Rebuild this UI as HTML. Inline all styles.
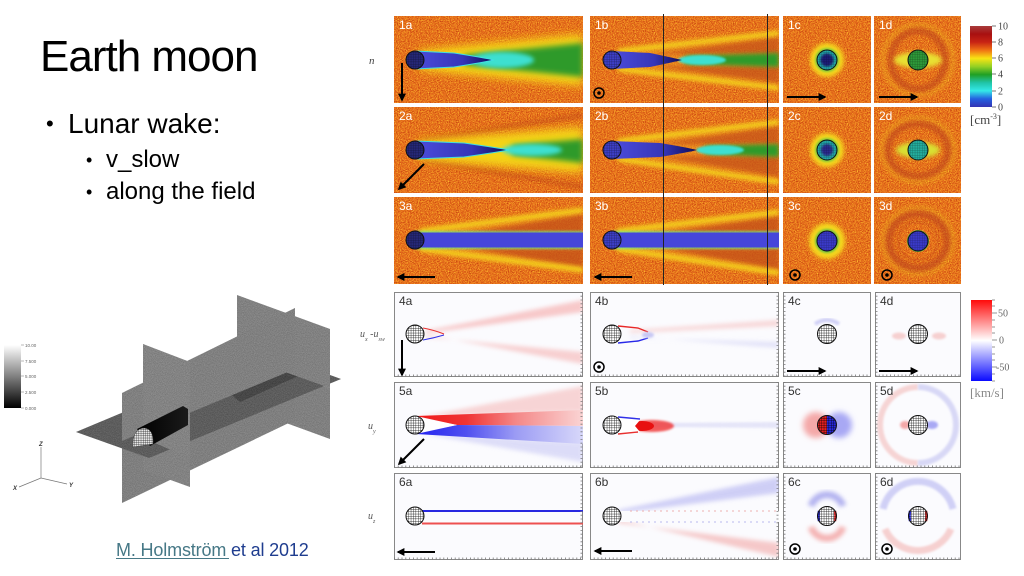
<!DOCTYPE html>
<html><head><meta charset="utf-8">
<style>
html,body{margin:0;padding:0;background:#fff;}
svg{display:block;}
</style></head>
<body>
<svg xmlns="http://www.w3.org/2000/svg" width="1024" height="576" viewBox="0 0 1024 576" font-family="'Liberation Sans', sans-serif">
<defs>
  <marker id="ah" viewBox="0 0 10 10" refX="8" refY="5" markerWidth="4" markerHeight="4" orient="auto"><path d="M0,0 L10,5 L0,10 z" fill="#000"/></marker>
  <pattern id="gl" width="2.4" height="2.4" patternUnits="userSpaceOnUse"><path d="M0 0H2.4M0 0V2.4" stroke="#000" stroke-width="0.7" fill="none"/></pattern>
  <pattern id="wg" width="2.2" height="2.2" patternUnits="userSpaceOnUse"><rect width="2.2" height="2.2" fill="#e8e8e8"/><path d="M0 0H2.2M0 0V2.2" stroke="#111" stroke-width="0.6" fill="none"/></pattern>
  <filter id="bl1" x="-50%" y="-50%" width="200%" height="200%"><feGaussianBlur stdDeviation="1"/></filter>
  <filter id="bl2" x="-50%" y="-50%" width="200%" height="200%"><feGaussianBlur stdDeviation="2"/></filter>
  <filter id="bl3" x="-50%" y="-50%" width="200%" height="200%"><feGaussianBlur stdDeviation="3"/></filter>
  <filter id="bl4" x="-50%" y="-50%" width="200%" height="200%"><feGaussianBlur stdDeviation="4.5"/></filter>
  <filter id="nz" x="0" y="0" width="100%" height="100%" color-interpolation-filters="sRGB">
    <feTurbulence type="fractalNoise" baseFrequency="0.9" numOctaves="2" seed="4" result="t"/>
    <feColorMatrix in="t" type="matrix" values="0 0 0 0 0.72  0 0 0 0 0.2  0 0 0 0 0.05  -3 0 0 0 1.45" result="d"/>
    <feColorMatrix in="t" type="matrix" values="0 0 0 0 1  0 0 0 0 0.8  0 0 0 0 0.2  3 0 0 0 -1.55" result="y"/>
    <feMerge><feMergeNode in="d"/><feMergeNode in="y"/></feMerge>
  </filter>
  <filter id="gn" x="0" y="0" width="100%" height="100%" color-interpolation-filters="sRGB">
    <feTurbulence type="fractalNoise" baseFrequency="1.1" numOctaves="1" seed="7" result="t"/>
    <feColorMatrix in="t" type="matrix" values="1 0 0 0 -0.05  1 0 0 0 -0.05  1 0 0 0 -0.05  0 0 0 0 0.22" result="n"/>
    <feComposite in="n" in2="SourceGraphic" operator="in" result="nn"/>
    <feMerge><feMergeNode in="SourceGraphic"/><feMergeNode in="nn"/></feMerge>
  </filter>
  <linearGradient id="bandA" x1="0" y1="0" x2="1" y2="0"><stop offset="0" stop-color="#4C4CDC"/><stop offset="0.6" stop-color="#3636B8"/><stop offset="1" stop-color="#0C0C58"/></linearGradient>
  <linearGradient id="jet" x1="0" y1="0" x2="0" y2="1">
    <stop offset="0" stop-color="#A83C3C"/><stop offset="0.1" stop-color="#A81010"/><stop offset="0.2" stop-color="#C82414"/>
    <stop offset="0.3" stop-color="#F07414"/><stop offset="0.4" stop-color="#F8E414"/><stop offset="0.5" stop-color="#94D024"/>
    <stop offset="0.6" stop-color="#20A024"/><stop offset="0.7" stop-color="#20C4A8"/><stop offset="0.8" stop-color="#34E8E8"/>
    <stop offset="0.9" stop-color="#2460E0"/><stop offset="1" stop-color="#3434B4"/>
  </linearGradient>
  <linearGradient id="rwb" x1="0" y1="0" x2="0" y2="1"><stop offset="0" stop-color="#FF0A0A"/><stop offset="0.5" stop-color="#FFFFFF"/><stop offset="1" stop-color="#0A0AFF"/></linearGradient>
  <linearGradient id="gsc" x1="0" y1="0" x2="0" y2="1"><stop offset="0" stop-color="#FFFFFF"/><stop offset="1" stop-color="#000000"/></linearGradient>
  <linearGradient id="redfade" x1="0" y1="0" x2="1" y2="0"><stop offset="0" stop-color="#F01818"/><stop offset="0.3" stop-color="#F03434"/><stop offset="0.6" stop-color="#F48888"/><stop offset="1" stop-color="#FAD4D4"/></linearGradient>
  <linearGradient id="bluefade" x1="0" y1="0" x2="1" y2="0"><stop offset="0" stop-color="#2020F0"/><stop offset="0.3" stop-color="#5050F0"/><stop offset="0.6" stop-color="#9C9CF4"/><stop offset="1" stop-color="#D8D8FA"/></linearGradient>
  <linearGradient id="cyl" x1="0" y1="0" x2="1" y2="0"><stop offset="0" stop-color="#000"/><stop offset="1" stop-color="#1a1a1a"/></linearGradient>
</defs>

<rect width="1024" height="576" fill="#fff"/>

<!-- LEFT TEXT -->
<text x="40" y="71" font-size="44" letter-spacing="-1" fill="#000">Earth moon</text>
<text x="46" y="131" font-size="22" fill="#000">•</text>
<text x="68" y="133" font-size="28" fill="#000">Lunar wake:</text>
<text x="86" y="166" font-size="18" fill="#000">•</text>
<text x="106" y="167" font-size="24" fill="#000">v_slow</text>
<text x="86" y="198" font-size="18" fill="#000">•</text>
<text x="106" y="199" font-size="24" fill="#000">along the field</text>

<!-- citation -->
<text x="116" y="556" font-size="18" letter-spacing="-0.15"><tspan fill="#467886">M. Holmström</tspan><tspan fill="#1F3D8F"> et al 2012</tspan></text>
<line x1="116" y1="558.5" x2="229" y2="558.5" stroke="#467886" stroke-width="1"/>

<!-- grayscale colorbar -->
<rect x="4" y="345" width="17" height="63" fill="url(#gsc)"/>
<g font-size="4.5" fill="#666">
  <line x1="21" y1="345" x2="24" y2="345" stroke="#888" stroke-width="0.6"/><text x="25" y="347">10.00</text>
  <line x1="21" y1="361" x2="24" y2="361" stroke="#888" stroke-width="0.6"/><text x="25" y="363">7.500</text>
  <line x1="21" y1="376" x2="24" y2="376" stroke="#888" stroke-width="0.6"/><text x="25" y="378">5.000</text>
  <line x1="21" y1="392" x2="24" y2="392" stroke="#888" stroke-width="0.6"/><text x="25" y="394">2.500</text>
  <line x1="21" y1="408" x2="24" y2="408" stroke="#888" stroke-width="0.6"/><text x="25" y="410">0.000</text>
</g>
<!-- axes triad -->
<g stroke="#777" stroke-width="0.7" fill="none">
  <line x1="41" y1="478" x2="41" y2="447"/>
  <line x1="41" y1="478" x2="19" y2="487"/>
  <line x1="41" y1="478" x2="67" y2="484"/>
</g>
<g font-size="6" font-style="italic" fill="#333" font-weight="bold">
  <text x="39" y="446">Z</text>
  <text x="13" y="490">X</text>
  <text x="69" y="487">Y</text>
</g>

<!-- 3D figure -->
<g filter="url(#gn)">
  <polygon points="237,355 330,388 330,439 237,405" fill="#858585"/>
  <polygon points="122,441 295,369 295,420 122,503" fill="#838383"/>
  <polygon points="143,438 190,458 190,487 143,470" fill="#878787"/>
  <polygon points="76,432 267,352 341,379 149,458" fill="#585858"/>
  <polygon points="228,392 300,362 312,370 240,402" fill="#3c3c3c"/>
  <polygon points="237,295 330,329 330,388 237,355" fill="#868686"/>
  <polygon points="122,393 295,308 295,369 122,441" fill="#848484"/>
  <polygon points="143,344 190,362 190,458 143,438" fill="#888888"/>
</g>
<polygon points="137,429 183,406 188,409 188,425 150,446" fill="url(#cyl)"/>
<path d="M133,447 Q132,429 144,428 Q154,429 153,444 Z" fill="url(#wg)" stroke="#333" stroke-width="0.4"/>

<!-- RIGHT FIGURE -->
<text x="369" y="64" font-family="'Liberation Serif', serif" font-style="italic" font-size="11" fill="#444">n</text>
<text x="360" y="337" font-family="'Liberation Serif', serif" font-style="italic" font-size="10" fill="#555">u<tspan font-size="6" dy="4">x</tspan><tspan dy="-4"> -u</tspan><tspan font-size="6" dy="4">sw</tspan></text>
<text x="368" y="429" font-family="'Liberation Serif', serif" font-style="italic" font-size="10" fill="#555">u<tspan font-size="6" dy="4">y</tspan></text>
<text x="368" y="519" font-family="'Liberation Serif', serif" font-style="italic" font-size="10" fill="#555">u<tspan font-size="6" dy="4">z</tspan></text>

<!-- ===== Density row 1 ===== -->
<svg x="394" y="16" width="189" height="87">
  <rect width="189" height="87" fill="#E8701C"/><rect width="189" height="87" filter="url(#nz)"/>
  <polygon points="25,34 189,18 189,70 25,54" fill="#F4D418" filter="url(#bl4)"/>
  <polygon points="70,39 189,27 189,61 70,49" fill="#2E9A2A" filter="url(#bl3)"/>
  <ellipse cx="108" cy="44" rx="32" ry="8" fill="#3EE0D0" filter="url(#bl2)"/>
  <path d="M21,35 L60,37 Q92,42 100,44 Q92,46 60,51 L21,53 Z" fill="url(#bandA)"/>
  <path d="M21,35 L60,37 Q92,42 100,44 Q92,46 60,51 L21,53" fill="none" stroke="#40E0E0" stroke-width="1"/>
  <circle cx="21" cy="44" r="9" fill="#262878"/><circle cx="21" cy="44" r="9" fill="url(#gl)" opacity=".45"/><circle cx="21" cy="44" r="9" fill="none" stroke="#111"/>
  <line x1="8" y1="47" x2="8" y2="84" stroke="#000" stroke-width="2" marker-end="url(#ah)"/>
  <text x="5" y="13" font-size="12" fill="#fff">1a</text>
</svg>
<svg x="590" y="16" width="189" height="87">
  <rect width="189" height="87" fill="#E8701C"/><rect width="189" height="87" filter="url(#nz)"/>
  <polygon points="25,36 189,20 189,68 25,52" fill="#EFA020" opacity=".5" filter="url(#bl3)"/>
  <polygon points="60,38 189,21 189,38" fill="#B83A14" opacity=".55" filter="url(#bl2)"/>
  <polygon points="60,50 189,50 189,67" fill="#B83A14" opacity=".55" filter="url(#bl2)"/>
  <line x1="28" y1="35" x2="189" y2="17" stroke="#F4D41C" stroke-width="5" filter="url(#bl2)"/>
  <line x1="28" y1="53" x2="189" y2="72" stroke="#F4D41C" stroke-width="5" filter="url(#bl2)"/>
  <polygon points="95,40 189,37 189,51 95,48" fill="#2E9A2A" filter="url(#bl2)"/>
  <ellipse cx="112" cy="44" rx="24" ry="5" fill="#3EE0D0" filter="url(#bl1)"/>
  <path d="M22,35 L60,37 Q84,42 92,44 Q84,46 60,51 L22,53 Z" fill="url(#bandA)"/>
  <circle cx="22" cy="44" r="9" fill="#3E40C8"/><circle cx="22" cy="44" r="9" fill="url(#gl)" opacity=".5"/><circle cx="22" cy="44" r="9" fill="none" stroke="#111"/>
  <circle cx="9" cy="77" r="5" fill="none" stroke="#000" stroke-width="1.5"/><circle cx="9" cy="77" r="1.8" fill="#000"/>
  <text x="5" y="13" font-size="12" fill="#fff">1b</text>
</svg>
<svg x="783" y="16" width="88" height="87">
  <rect width="88" height="87" fill="#E8701C"/><rect width="88" height="87" filter="url(#nz)"/>
  <circle cx="44" cy="44" r="17" fill="#F4D81C" filter="url(#bl2)"/>
  <circle cx="44" cy="44" r="12" fill="#7CC83A" filter="url(#bl1)"/>
  <circle cx="44" cy="44" r="10" fill="#22A6A6"/>
  <circle cx="44" cy="44" r="6.5" fill="#1C1C78" filter="url(#bl1)"/>
  <circle cx="44" cy="44" r="10" fill="url(#gl)" opacity=".35"/><circle cx="44" cy="44" r="10" fill="none" stroke="#111"/>
  <line x1="4" y1="81" x2="42" y2="81" stroke="#000" stroke-width="2" marker-end="url(#ah)"/>
  <text x="5" y="13" font-size="12" fill="#fff">1c</text>
</svg>
<svg x="874" y="16" width="87" height="87">
  <rect width="87" height="87" fill="#E8701C"/><rect width="87" height="87" filter="url(#nz)"/>
  <circle cx="44" cy="44" r="35" fill="none" stroke="#F0C020" stroke-width="4" opacity=".45" filter="url(#bl2)"/>
  <ellipse cx="44" cy="44" rx="27" ry="29" fill="none" stroke="#B8401A" stroke-width="6" opacity=".6" filter="url(#bl2)"/>
  <ellipse cx="44" cy="44" rx="24" ry="8" fill="#E8E030" filter="url(#bl2)"/>
  <circle cx="44" cy="44" r="10" fill="#2E9A3A"/>
  <circle cx="44" cy="44" r="10" fill="url(#gl)" opacity=".4"/><circle cx="44" cy="44" r="10" fill="none" stroke="#111"/>
  <line x1="5" y1="81" x2="43" y2="81" stroke="#000" stroke-width="2" marker-end="url(#ah)"/>
  <text x="5" y="13" font-size="12" fill="#fff">1d</text>
</svg>

<!-- ===== Density row 2 ===== -->
<svg x="394" y="107" width="189" height="86">
  <rect width="189" height="86" fill="#E8701C"/><rect width="189" height="86" filter="url(#nz)"/>
  <line x1="30" y1="33" x2="189" y2="8" stroke="#B84018" stroke-width="4" opacity=".5" filter="url(#bl2)"/>
  <line x1="30" y1="53" x2="189" y2="80" stroke="#B84018" stroke-width="4" opacity=".5" filter="url(#bl2)"/>
  <polygon points="25,33 189,20 189,66 25,53" fill="#F4D418" filter="url(#bl4)"/>
  <polygon points="118,38 189,32 189,56 118,48" fill="#2E9A2A" filter="url(#bl3)"/>
  <ellipse cx="138" cy="43" rx="30" ry="6" fill="#3EE0D0" filter="url(#bl2)"/>
  <path d="M21,34 L70,36 Q105,41 115,43 Q105,45 70,50 L21,52 Z" fill="url(#bandA)"/>
  <path d="M21,34 L70,36 Q105,41 115,43 Q105,45 70,50 L21,52" fill="none" stroke="#40E0E0" stroke-width="1"/>
  <circle cx="21" cy="43" r="9" fill="#262878"/><circle cx="21" cy="43" r="9" fill="url(#gl)" opacity=".45"/><circle cx="21" cy="43" r="9" fill="none" stroke="#111"/>
  <line x1="30" y1="57" x2="5" y2="82" stroke="#000" stroke-width="2" marker-end="url(#ah)"/>
  <text x="5" y="13" font-size="12" fill="#fff">2a</text>
</svg>
<svg x="590" y="107" width="189" height="86">
  <rect width="189" height="86" fill="#E8701C"/><rect width="189" height="86" filter="url(#nz)"/>
  <polygon points="25,35 189,18 189,70 25,51" fill="#EFA020" opacity=".5" filter="url(#bl3)"/>
  <polygon points="65,37 189,19 189,37" fill="#B83A14" opacity=".55" filter="url(#bl2)"/>
  <polygon points="65,49 189,49 189,70" fill="#B83A14" opacity=".55" filter="url(#bl2)"/>
  <line x1="28" y1="34" x2="189" y2="15" stroke="#F4D41C" stroke-width="5" filter="url(#bl2)"/>
  <line x1="28" y1="52" x2="189" y2="75" stroke="#F4D41C" stroke-width="5" filter="url(#bl2)"/>
  <polygon points="115,39 189,37 189,50 115,47" fill="#2E9A2A" filter="url(#bl2)"/>
  <ellipse cx="130" cy="43" rx="24" ry="5" fill="#3EE0D0" filter="url(#bl1)"/>
  <path d="M22,34 L70,36 Q100,41 107,43 Q100,45 70,50 L22,52 Z" fill="url(#bandA)"/>
  <circle cx="22" cy="43" r="9" fill="#3E40C8"/><circle cx="22" cy="43" r="9" fill="url(#gl)" opacity=".5"/><circle cx="22" cy="43" r="9" fill="none" stroke="#111"/>
  <text x="5" y="13" font-size="12" fill="#fff">2b</text>
</svg>
<svg x="783" y="107" width="88" height="86">
  <rect width="88" height="86" fill="#E8701C"/><rect width="88" height="86" filter="url(#nz)"/>
  <circle cx="44" cy="43" r="17" fill="#F4D81C" filter="url(#bl2)"/>
  <circle cx="44" cy="43" r="12" fill="#7CC83A" filter="url(#bl1)"/>
  <circle cx="44" cy="43" r="10" fill="#22A6A6"/>
  <circle cx="44" cy="43" r="6" fill="#2A2A90" filter="url(#bl1)"/>
  <circle cx="44" cy="43" r="10" fill="url(#gl)" opacity=".35"/><circle cx="44" cy="43" r="10" fill="none" stroke="#111"/>
  <text x="5" y="13" font-size="12" fill="#fff">2c</text>
</svg>
<svg x="874" y="107" width="87" height="86">
  <rect width="87" height="86" fill="#E8701C"/><rect width="87" height="86" filter="url(#nz)"/>
  <ellipse cx="44" cy="43" rx="36" ry="32" fill="none" stroke="#F0C020" stroke-width="4" opacity=".45" filter="url(#bl2)"/>
  <ellipse cx="44" cy="43" rx="30" ry="26" fill="none" stroke="#B8401A" stroke-width="6" opacity=".6" filter="url(#bl2)"/>
  <ellipse cx="44" cy="43" rx="22" ry="8" fill="#D8E030" filter="url(#bl2)"/>
  <circle cx="44" cy="43" r="10" fill="#24AE9E"/>
  <circle cx="44" cy="43" r="10" fill="url(#gl)" opacity=".4"/><circle cx="44" cy="43" r="10" fill="none" stroke="#111"/>
  <text x="5" y="13" font-size="12" fill="#fff">2d</text>
</svg>

<!-- ===== Density row 3 ===== -->
<svg x="394" y="197" width="189" height="87">
  <rect width="189" height="87" fill="#E8701C"/><rect width="189" height="87" filter="url(#nz)"/>
  <polygon points="25,34 189,14 189,74 25,52" fill="#EFA020" opacity=".5" filter="url(#bl3)"/>
  <polygon points="72,36 189,17 189,36" fill="#B83A14" opacity=".6" filter="url(#bl2)"/>
  <polygon points="72,51 189,51 189,71" fill="#B83A14" opacity=".6" filter="url(#bl2)"/>
  <line x1="26" y1="34" x2="189" y2="13" stroke="#F4D41C" stroke-width="5" filter="url(#bl2)"/>
  <line x1="26" y1="52" x2="189" y2="73" stroke="#F4D41C" stroke-width="5" filter="url(#bl2)"/>
  <rect x="21" y="34" width="168" height="18" fill="#44FFAA" opacity=".6" filter="url(#bl1)"/>
  <rect x="21" y="35.5" width="168" height="15" fill="#4646DA"/>
  <circle cx="21" cy="43" r="9" fill="#262878"/><circle cx="21" cy="43" r="9" fill="url(#gl)" opacity=".45"/><circle cx="21" cy="43" r="9" fill="none" stroke="#111"/>
  <line x1="41" y1="80" x2="4" y2="80" stroke="#000" stroke-width="2" marker-end="url(#ah)"/>
  <text x="5" y="13" font-size="12" fill="#fff">3a</text>
</svg>
<svg x="590" y="197" width="189" height="87">
  <rect width="189" height="87" fill="#E8701C"/><rect width="189" height="87" filter="url(#nz)"/>
  <polygon points="25,34 189,16 189,76 25,52" fill="#EFA020" opacity=".5" filter="url(#bl3)"/>
  <polygon points="70,36 189,19 189,36" fill="#B83A14" opacity=".6" filter="url(#bl2)"/>
  <polygon points="70,51 189,51 189,73" fill="#B83A14" opacity=".6" filter="url(#bl2)"/>
  <line x1="27" y1="34" x2="189" y2="15" stroke="#F4D41C" stroke-width="5" filter="url(#bl2)"/>
  <line x1="27" y1="52" x2="189" y2="76" stroke="#F4D41C" stroke-width="5" filter="url(#bl2)"/>
  <rect x="22" y="34" width="167" height="18" fill="#44FFAA" opacity=".6" filter="url(#bl1)"/>
  <rect x="22" y="35.5" width="167" height="15" fill="#4646DA"/>
  <circle cx="22" cy="43" r="9" fill="#3E40C8"/><circle cx="22" cy="43" r="9" fill="url(#gl)" opacity=".5"/><circle cx="22" cy="43" r="9" fill="none" stroke="#111"/>
  <line x1="42" y1="80" x2="5" y2="80" stroke="#000" stroke-width="2" marker-end="url(#ah)"/>
  <text x="5" y="13" font-size="12" fill="#fff">3b</text>
</svg>
<svg x="783" y="197" width="88" height="87">
  <rect width="88" height="87" fill="#E8701C"/><rect width="88" height="87" filter="url(#nz)"/>
  <circle cx="44" cy="44" r="18" fill="#F4D81C" filter="url(#bl2)"/>
  <circle cx="44" cy="44" r="12" fill="#6CC040" filter="url(#bl1)"/>
  <circle cx="44" cy="44" r="10" fill="#3A3AC8"/>
  <circle cx="44" cy="44" r="10" fill="url(#gl)" opacity=".35"/><circle cx="44" cy="44" r="10" fill="none" stroke="#111"/>
  <circle cx="12" cy="78" r="5" fill="none" stroke="#000" stroke-width="1.5"/><circle cx="12" cy="78" r="1.8" fill="#000"/>
  <text x="5" y="13" font-size="12" fill="#fff">3c</text>
</svg>
<svg x="874" y="197" width="87" height="87">
  <rect width="87" height="87" fill="#E8701C"/><rect width="87" height="87" filter="url(#nz)"/>
  <ellipse cx="44" cy="44" rx="35" ry="33" fill="none" stroke="#F0C020" stroke-width="4" opacity=".45" filter="url(#bl2)"/>
  <ellipse cx="44" cy="44" rx="29" ry="27" fill="none" stroke="#B8401A" stroke-width="7" opacity=".6" filter="url(#bl2)"/>
  <ellipse cx="44" cy="44" rx="20" ry="19" fill="none" stroke="#B8401A" stroke-width="2" opacity=".35" filter="url(#bl1)"/>
  <circle cx="44" cy="44" r="11" fill="#58B040"/>
  <circle cx="44" cy="44" r="10" fill="#3A3AC8"/>
  <circle cx="44" cy="44" r="10" fill="url(#gl)" opacity=".35"/><circle cx="44" cy="44" r="10" fill="none" stroke="#111"/>
  <circle cx="13" cy="78" r="5" fill="none" stroke="#000" stroke-width="1.5"/><circle cx="13" cy="78" r="1.8" fill="#000"/>
  <text x="5" y="13" font-size="12" fill="#fff">3d</text>
</svg>

<line x1="663.5" y1="14" x2="663.5" y2="285" stroke="#222" stroke-width="1"/>
<line x1="767.5" y1="14" x2="767.5" y2="285" stroke="#222" stroke-width="1"/>

<!-- density colorbar -->
<rect x="970" y="26" width="22" height="81" fill="url(#jet)"/>
<g stroke="#555" stroke-width="0.8">
  <line x1="992" y1="26" x2="996" y2="26"/><line x1="992" y1="42" x2="996" y2="42"/><line x1="992" y1="58" x2="996" y2="58"/>
  <line x1="992" y1="74" x2="996" y2="74"/><line x1="992" y1="91" x2="996" y2="91"/><line x1="992" y1="107" x2="996" y2="107"/>
</g>
<g font-family="'Liberation Serif', serif" font-size="10" fill="#444">
  <text x="998" y="29.5">10</text><text x="998" y="45.5">8</text><text x="998" y="61.5">6</text>
  <text x="998" y="77.5">4</text><text x="998" y="94.5">2</text><text x="998" y="110.5">0</text>
  <text x="970" y="124" font-size="13">[cm<tspan font-size="8" dy="-5">-3</tspan><tspan dy="5">]</tspan></text>
</g>

<!-- ===== Velocity row 4 ===== -->
<svg x="394" y="292" width="189" height="85">
  <rect x="0.5" y="0.5" width="188" height="84" fill="#FBFBFE" stroke="#888"/>
  <polygon points="30,39 189,8 189,20 34,41" fill="#F6B4B4" opacity=".7" filter="url(#bl2)"/>
  <polygon points="30,45 189,60 189,72 34,43" fill="#F6BEBE" opacity=".7" filter="url(#bl2)"/>
  <path d="M29,36 Q40,38 50,42" stroke="#E83030" stroke-width="1" fill="none"/>
  <path d="M29,48 Q40,46 50,43" stroke="#3030E8" stroke-width="1" fill="none"/>
  <line x1="0" y1="83.5" x2="189" y2="83.5" stroke="#777" stroke-width="2" stroke-dasharray="0.8 3"/>
  <line x1="187.5" y1="0" x2="187.5" y2="85" stroke="#777" stroke-width="2" stroke-dasharray="0.8 3"/>
  <circle cx="21" cy="42" r="9" fill="#fff"/><circle cx="21" cy="42" r="9" fill="url(#gl)"/><circle cx="21" cy="42" r="9" fill="none" stroke="#111"/>
  <line x1="8" y1="48" x2="8" y2="83" stroke="#000" stroke-width="2" marker-end="url(#ah)"/>
  <text x="5" y="13" font-size="12" fill="#333">4a</text>
</svg>
<svg x="590" y="292" width="189" height="85">
  <rect x="0.5" y="0.5" width="188" height="84" fill="#FBFBFE" stroke="#888"/>
  <polygon points="40,38 189,28 189,34 40,41" fill="#F6C8C8" opacity=".7" filter="url(#bl2)"/>
  <polygon points="40,46 189,50 189,56 40,44" fill="#D8D8F6" opacity=".7" filter="url(#bl2)"/>
  <path d="M28,34 L48,36 L58,40" stroke="#E82828" stroke-width="1.4" fill="none"/>
  <path d="M28,51 L48,49 L58,46" stroke="#2828E8" stroke-width="1.4" fill="none"/>
  <ellipse cx="58" cy="43" rx="6" ry="3" fill="#C8C8F4" filter="url(#bl1)"/>
  <line x1="0" y1="83.5" x2="189" y2="83.5" stroke="#777" stroke-width="2" stroke-dasharray="0.8 3"/>
  <line x1="187.5" y1="0" x2="187.5" y2="85" stroke="#777" stroke-width="2" stroke-dasharray="0.8 3"/>
  <circle cx="22" cy="42" r="9" fill="#fff"/><circle cx="22" cy="42" r="9" fill="url(#gl)"/><circle cx="22" cy="42" r="9" fill="none" stroke="#111"/>
  <circle cx="9" cy="75" r="5" fill="none" stroke="#000" stroke-width="1.5"/><circle cx="9" cy="75" r="1.8" fill="#000"/>
  <text x="5" y="13" font-size="12" fill="#333">4b</text>
</svg>
<svg x="783" y="292" width="88" height="85">
  <rect x="0.5" y="0.5" width="87" height="84" fill="#FBFBFE" stroke="#888"/>
  <path d="M32,32 Q44,24 56,32" stroke="#D0D0F6" stroke-width="4" fill="none" filter="url(#bl1)"/>
  <line x1="0" y1="83.5" x2="88" y2="83.5" stroke="#777" stroke-width="2" stroke-dasharray="0.8 3"/>
  <line x1="1.5" y1="0" x2="1.5" y2="85" stroke="#777" stroke-width="2" stroke-dasharray="0.8 3"/>
  <circle cx="44" cy="42" r="9.5" fill="#fff"/><circle cx="44" cy="42" r="9.5" fill="url(#gl)"/><circle cx="44" cy="42" r="9.5" fill="none" stroke="#111"/>
  <line x1="4" y1="79" x2="42" y2="79" stroke="#000" stroke-width="2" marker-end="url(#ah)"/>
  <text x="5" y="13" font-size="12" fill="#333">4c</text>
</svg>
<svg x="875" y="292" width="86" height="85">
  <rect x="0.5" y="0.5" width="85" height="84" fill="#FBFBFE" stroke="#888"/>
  <ellipse cx="24" cy="44" rx="7" ry="3.5" fill="#F6D0D0" filter="url(#bl1)"/>
  <ellipse cx="64" cy="44" rx="7" ry="3.5" fill="#F6D0D0" filter="url(#bl1)"/>
  <line x1="0" y1="83.5" x2="86" y2="83.5" stroke="#777" stroke-width="2" stroke-dasharray="0.8 3"/>
  <line x1="1.5" y1="0" x2="1.5" y2="85" stroke="#777" stroke-width="2" stroke-dasharray="0.8 3"/>
  <circle cx="43" cy="42" r="9.5" fill="#fff"/><circle cx="43" cy="42" r="9.5" fill="url(#gl)"/><circle cx="43" cy="42" r="9.5" fill="none" stroke="#111"/>
  <line x1="4" y1="79" x2="42" y2="79" stroke="#000" stroke-width="2" marker-end="url(#ah)"/>
  <text x="5" y="13" font-size="12" fill="#333">4d</text>
</svg>

<!-- ===== Velocity row 5 ===== -->
<svg x="394" y="382" width="189" height="86">
  <rect x="0.5" y="0.5" width="188" height="85" fill="#FBFBFE" stroke="#888"/>
  <polygon points="24,35 189,4 189,30" fill="#F6C4C4" opacity=".7" filter="url(#bl2)"/>
  <polygon points="24,51 189,60 189,80" fill="#D0D0F6" opacity=".7" filter="url(#bl2)"/>
  <polygon points="22,34 189,28 189,44 63,43" fill="url(#redfade)"/>
  <polygon points="63,43 189,44 189,62 22,52" fill="url(#bluefade)"/>
  <polygon points="22,35 63,43 22,51" fill="#fff"/>
  <line x1="0" y1="84.5" x2="189" y2="84.5" stroke="#777" stroke-width="2" stroke-dasharray="0.8 3"/>
  <line x1="187.5" y1="0" x2="187.5" y2="86" stroke="#777" stroke-width="2" stroke-dasharray="0.8 3"/>
  <circle cx="21" cy="43" r="9" fill="#fff"/><circle cx="21" cy="43" r="9" fill="url(#gl)"/><circle cx="21" cy="43" r="9" fill="none" stroke="#111"/>
  <line x1="30" y1="57" x2="5" y2="82" stroke="#000" stroke-width="2" marker-end="url(#ah)"/>
  <text x="5" y="13" font-size="12" fill="#333">5a</text>
</svg>
<svg x="590" y="382" width="189" height="86">
  <rect x="0.5" y="0.5" width="188" height="85" fill="#FBFBFE" stroke="#888"/>
  <polygon points="60,41 189,40 189,46 60,45" fill="#DCDCF6" opacity=".7" filter="url(#bl1)"/>
  <ellipse cx="62" cy="44" rx="22" ry="6" fill="#F03030" opacity=".8" filter="url(#bl1)"/>
  <ellipse cx="52" cy="44" rx="12" ry="5" fill="#E81010"/>
  <polygon points="28,36 50,38 45,44 50,50 28,52" fill="#fff"/>
  <path d="M28,35 L50,37" stroke="#3030E8" stroke-width="1.4" fill="none"/>
  <path d="M28,52 L48,50" stroke="#E83030" stroke-width="1.4" fill="none"/>
  <line x1="0" y1="84.5" x2="189" y2="84.5" stroke="#777" stroke-width="2" stroke-dasharray="0.8 3"/>
  <line x1="187.5" y1="0" x2="187.5" y2="86" stroke="#777" stroke-width="2" stroke-dasharray="0.8 3"/>
  <circle cx="22" cy="43" r="9" fill="#fff"/><circle cx="22" cy="43" r="9" fill="url(#gl)"/><circle cx="22" cy="43" r="9" fill="none" stroke="#111"/>
  <text x="5" y="13" font-size="12" fill="#333">5b</text>
</svg>
<svg x="783" y="382" width="88" height="86">
  <rect x="0.5" y="0.5" width="87" height="85" fill="#FBFBFE" stroke="#888"/>
  <ellipse cx="33" cy="43" rx="13" ry="13" fill="#F4A8A8" filter="url(#bl3)"/>
  <ellipse cx="56" cy="43" rx="13" ry="13" fill="#A8A8F4" filter="url(#bl3)"/>
  <line x1="0" y1="84.5" x2="88" y2="84.5" stroke="#777" stroke-width="2" stroke-dasharray="0.8 3"/>
  <line x1="1.5" y1="0" x2="1.5" y2="86" stroke="#777" stroke-width="2" stroke-dasharray="0.8 3"/>
  <path d="M44,33.5 A9.5,9.5 0 0 0 44,52.5 Z" fill="#E82020"/>
  <path d="M44,33.5 A9.5,9.5 0 0 1 44,52.5 Z" fill="#2828E0"/>
  <circle cx="44" cy="43" r="9.5" fill="url(#gl)"/><circle cx="44" cy="43" r="9.5" fill="none" stroke="#111"/>
  <text x="5" y="13" font-size="12" fill="#333">5c</text>
</svg>
<svg x="875" y="382" width="86" height="86">
  <rect x="0.5" y="0.5" width="85" height="85" fill="#FBFBFE" stroke="#888"/>
  <path d="M43,5 A38,38 0 0 0 43,81" stroke="#F6D4D4" stroke-width="6" fill="none" filter="url(#bl1)"/>
  <path d="M43,5 A38,38 0 0 1 43,81" stroke="#D8D8F6" stroke-width="6" fill="none" filter="url(#bl1)"/>
  <ellipse cx="30" cy="43" rx="5" ry="4" fill="#F4A8A8" filter="url(#bl1)"/>
  <ellipse cx="57" cy="43" rx="6" ry="4" fill="#A8A8F4" filter="url(#bl1)"/>
  <line x1="0" y1="84.5" x2="86" y2="84.5" stroke="#777" stroke-width="2" stroke-dasharray="0.8 3"/>
  <line x1="1.5" y1="0" x2="1.5" y2="86" stroke="#777" stroke-width="2" stroke-dasharray="0.8 3"/>
  <circle cx="43" cy="43" r="9.5" fill="#fff"/><circle cx="43" cy="43" r="9.5" fill="url(#gl)"/><circle cx="43" cy="43" r="9.5" fill="none" stroke="#111"/>
  <text x="5" y="13" font-size="12" fill="#333">5d</text>
</svg>

<!-- ===== Velocity row 6 ===== -->
<svg x="394" y="473" width="189" height="87">
  <rect x="0.5" y="0.5" width="188" height="86" fill="#FBFBFE" stroke="#888"/>
  <rect x="28" y="37" width="161" height="2" fill="#2828E0"/>
  <rect x="28" y="49.5" width="161" height="2" fill="#EE5050"/>
  <line x1="0" y1="85.5" x2="189" y2="85.5" stroke="#777" stroke-width="2" stroke-dasharray="0.8 3"/>
  <line x1="187.5" y1="0" x2="187.5" y2="87" stroke="#777" stroke-width="2" stroke-dasharray="0.8 3"/>
  <circle cx="21" cy="43" r="9" fill="#fff"/><circle cx="21" cy="43" r="9" fill="url(#gl)"/><circle cx="21" cy="43" r="9" fill="none" stroke="#111"/>
  <line x1="41" y1="79" x2="4" y2="79" stroke="#000" stroke-width="2" marker-end="url(#ah)"/>
  <text x="5" y="13" font-size="12" fill="#333">6a</text>
</svg>
<svg x="590" y="473" width="189" height="87">
  <rect x="0.5" y="0.5" width="188" height="86" fill="#FBFBFE" stroke="#888"/>
  <polygon points="28,37 189,4 189,20 30,40" fill="#C4C4F4" opacity=".8" filter="url(#bl2)"/>
  <polygon points="28,50 189,70 189,84 30,47" fill="#F4BCBC" opacity=".8" filter="url(#bl2)"/>
  <rect x="30" y="38" width="159" height="11" fill="#FBFBFE"/>
  <line x1="40" y1="38" x2="189" y2="38" stroke="#EEB0B0" stroke-width="1" stroke-dasharray="2 4"/>
  <line x1="40" y1="49" x2="189" y2="49" stroke="#B8B8EE" stroke-width="1" stroke-dasharray="2 4"/>
  <line x1="0" y1="85.5" x2="189" y2="85.5" stroke="#777" stroke-width="2" stroke-dasharray="0.8 3"/>
  <line x1="187.5" y1="0" x2="187.5" y2="87" stroke="#777" stroke-width="2" stroke-dasharray="0.8 3"/>
  <circle cx="22" cy="43" r="9" fill="#fff"/><circle cx="22" cy="43" r="9" fill="url(#gl)"/><circle cx="22" cy="43" r="9" fill="none" stroke="#111"/>
  <line x1="42" y1="78" x2="5" y2="78" stroke="#000" stroke-width="2" marker-end="url(#ah)"/>
  <text x="5" y="13" font-size="12" fill="#333">6b</text>
</svg>
<svg x="783" y="473" width="88" height="87">
  <rect x="0.5" y="0.5" width="87" height="86" fill="#FBFBFE" stroke="#888"/>
  <path d="M28,33 A17,17 0 0 1 60,33" stroke="#B4B4F0" stroke-width="7" fill="none" filter="url(#bl2)"/>
  <path d="M28,54 A17,17 0 0 0 60,54" stroke="#F4B4B4" stroke-width="7" fill="none" filter="url(#bl2)"/>
  <line x1="0" y1="85.5" x2="88" y2="85.5" stroke="#777" stroke-width="2" stroke-dasharray="0.8 3"/>
  <line x1="1.5" y1="0" x2="1.5" y2="87" stroke="#777" stroke-width="2" stroke-dasharray="0.8 3"/>
  <circle cx="44" cy="43" r="9.5" fill="#fff"/>
  <path d="M36,38 Q35,43 36,48" stroke="#2828E0" stroke-width="2.5" fill="none"/>
  <path d="M52,38 Q53,43 52,48" stroke="#E82828" stroke-width="2.5" fill="none"/>
  <circle cx="44" cy="43" r="9.5" fill="url(#gl)"/><circle cx="44" cy="43" r="9.5" fill="none" stroke="#111"/>
  <circle cx="12" cy="76" r="5" fill="none" stroke="#000" stroke-width="1.5"/><circle cx="12" cy="76" r="1.8" fill="#000"/>
  <text x="5" y="13" font-size="12" fill="#333">6c</text>
</svg>
<svg x="875" y="473" width="86" height="87">
  <rect x="0.5" y="0.5" width="85" height="86" fill="#FBFBFE" stroke="#888"/>
  <path d="M8,36 A36,36 0 0 1 78,36" stroke="#D0D0F6" stroke-width="7" fill="none" filter="url(#bl1)"/>
  <path d="M10,56 A36,36 0 0 0 76,56" stroke="#F6D0D0" stroke-width="7" fill="none" filter="url(#bl1)"/>
  <line x1="0" y1="85.5" x2="86" y2="85.5" stroke="#777" stroke-width="2" stroke-dasharray="0.8 3"/>
  <line x1="1.5" y1="0" x2="1.5" y2="87" stroke="#777" stroke-width="2" stroke-dasharray="0.8 3"/>
  <circle cx="43" cy="43" r="9.5" fill="#fff"/>
  <path d="M35,38 Q34,43 35,48" stroke="#2828E0" stroke-width="2.5" fill="none"/>
  <path d="M51,38 Q52,43 51,48" stroke="#E82828" stroke-width="2.5" fill="none"/>
  <circle cx="43" cy="43" r="9.5" fill="url(#gl)"/><circle cx="43" cy="43" r="9.5" fill="none" stroke="#111"/>
  <circle cx="12" cy="76" r="5" fill="none" stroke="#000" stroke-width="1.5"/><circle cx="12" cy="76" r="1.8" fill="#000"/>
  <text x="5" y="13" font-size="12" fill="#333">6d</text>
</svg>

<!-- velocity colorbar -->
<rect x="971" y="300" width="21" height="81" fill="url(#rwb)"/>
<g stroke="#666" stroke-width="0.7">
  <line x1="992" y1="300" x2="995" y2="300"/><line x1="992" y1="306" x2="995" y2="306"/><line x1="992" y1="313" x2="997" y2="313"/>
  <line x1="992" y1="320" x2="995" y2="320"/><line x1="992" y1="327" x2="995" y2="327"/><line x1="992" y1="333" x2="995" y2="333"/>
  <line x1="992" y1="340" x2="997" y2="340"/><line x1="992" y1="347" x2="995" y2="347"/><line x1="992" y1="354" x2="995" y2="354"/>
  <line x1="992" y1="360" x2="995" y2="360"/><line x1="992" y1="367" x2="997" y2="367"/><line x1="992" y1="374" x2="995" y2="374"/>
  <line x1="992" y1="381" x2="995" y2="381"/>
</g>
<g font-family="'Liberation Serif', serif" font-size="10" fill="#666">
  <text x="998" y="316.5">50</text><text x="999" y="343.5">0</text><text x="996" y="370.5">-50</text>
  <text x="970" y="397" font-size="13" fill="#888">[km/s]</text>
</g>
</svg>
</body></html>
